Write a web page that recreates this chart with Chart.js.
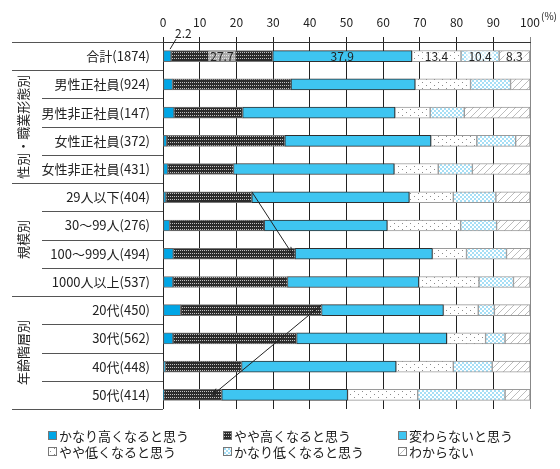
<!DOCTYPE html>
<html>
<head>
<meta charset="utf-8">
<script src="https://cdn.jsdelivr.net/npm/chart.js@4.4.1/dist/chart.umd.min.js"></script>
<style>
    body { margin: 0; background: #fff; }
</style>
</head>
<body>
<canvas id="myChart" width="560" height="469"></canvas>
<script>
// 行ラベル
var categories = ['合計(1874)', '男性正社員(924)', '男性非正社員(147)', '女性正社員(372)', '女性非正社員(431)',
    '29人以下(404)', '30～99人(276)', '100～999人(494)', '1000人以上(537)',
    '20代(450)', '30代(562)', '40代(448)', '50代(414)'];

// 系列名
var seriesNames = ['かなり高くなると思う', 'やや高くなると思う', '変わらないと思う',
    'やや低くなると思う', 'かなり低くなると思う', 'わからない'];

// 各系列の値 (%)
var muchHigher = [2.2, 2.6, 3.0, 1.0, 1.3, 0.8, 1.8, 2.8, 2.7, 4.8, 2.7, 0.6, 0.2];
var slightlyHigher = [27.7, 32.3, 18.7, 32.2, 17.9, 23.4, 25.8, 33.2, 31.2, 38.4, 33.7, 20.8, 15.8];
var noChange = [37.9, 33.8, 41.5, 39.8, 43.8, 42.9, 33.5, 37.4, 35.8, 33.2, 40.9, 42.1, 34.3];
var slightlyLower = [13.4, 15.1, 9.6, 12.5, 12.0, 12.0, 20.0, 9.3, 16.4, 9.5, 10.6, 15.6, 19.1];
var muchLower = [10.4, 10.9, 9.3, 10.6, 9.3, 11.6, 9.8, 10.9, 9.4, 4.4, 5.3, 10.6, 23.8];
var dontKnow = [8.3, 5.3, 17.9, 3.9, 15.7, 9.3, 9.1, 6.4, 4.5, 9.7, 6.8, 10.3, 6.8];

// 軸目盛
var xTicks = [0, 10, 20, 30, 40, 50, 60, 70, 80, 90, 100];

// グループ (縦書きラベル)
var groupNames = ['性別・職業形態別', '規模別', '年齢階層別'];
var groupStart = [1, 5, 9];
var groupEnd = [4, 8, 12];

var FONT = '"Noto Sans CJK JP", "Noto Sans", sans-serif';

function makePattern(w, h, draw) {
    var c = document.createElement('canvas');
    c.width = w;
    c.height = h;
    var g = c.getContext('2d');
    draw(g);
    return g.createPattern(c, 'repeat');
}

// 模様
var darkDots = makePattern(4, 3, function (g) {
    g.fillStyle = '#2c2c2c';
    g.fillRect(0, 0, 4, 3);
    g.fillStyle = '#c4c4c4';
    g.fillRect(0, 1, 1, 1);
    g.fillRect(2, 1, 1, 1);
});
var sparseDots = makePattern(8, 6, function (g) {
    g.fillStyle = '#ffffff';
    g.fillRect(0, 0, 8, 6);
    g.fillStyle = '#8a8a8a';
    g.fillRect(2, 1, 1, 1);
    g.fillRect(6, 4, 1, 1);
});
var blueChecker = makePattern(4, 4, function (g) {
    g.fillStyle = '#ffffff';
    g.fillRect(0, 0, 4, 4);
    g.fillStyle = '#a6dff6';
    g.fillRect(0, 0, 2, 2);
    g.fillRect(2, 2, 2, 2);
});
var diagonal = makePattern(7, 7, function (g) {
    g.fillStyle = '#ffffff';
    g.fillRect(0, 0, 7, 7);
    g.fillStyle = '#bdbdbd';
    for (var i = 0; i < 7; i++) g.fillRect(i, 6 - i, 1, 1);
});

var fills = ['#00a6e6', darkDots, '#3ec5f1', sparseDots, blueChecker, diagonal];
var borders = ['#6a6a6a', '#777777', '#2f2f2f', '#9a9a9a', '#9a9a9a', '#9a9a9a'];
var values = [muchHigher, slightlyHigher, noChange, slightlyLower, muchLower, dontKnow];

var datasets = [];
for (var i = 0; i != seriesNames.length; i++) {
    datasets.push({
        label: seriesNames[i],
        data: values[i],
        backgroundColor: fills[i],
        borderColor: borders[i],
        borderWidth: 1,
        borderSkipped: false,
        barThickness: 11
    });
}

function arrow(ctx, x1, y1, x2, y2) {
    var a = Math.atan2(y2 - y1, x2 - x1);
    ctx.beginPath();
    ctx.moveTo(x1, y1);
    ctx.lineTo(x2, y2);
    ctx.moveTo(x2 - 7 * Math.cos(a - 0.4), y2 - 7 * Math.sin(a - 0.4));
    ctx.lineTo(x2, y2);
    ctx.lineTo(x2 - 7 * Math.cos(a + 0.4), y2 - 7 * Math.sin(a + 0.4));
    ctx.stroke();
}

// 左側の区切り線・縦書き・矢印・数値・凡例
var extras = {
    id: 'extras',
    afterDraw: function (chart) {
        var ctx = chart.ctx;
        var area = chart.chartArea;
        var ys = chart.scales.y;
        var xs = chart.scales.x;
        var pitch = ys.getPixelForValue(1) - ys.getPixelForValue(0);
        ctx.save();

        // 区切り線
        ctx.strokeStyle = '#555';
        ctx.lineWidth = 1;
        for (var r = 0; r <= categories.length; r++) {
            var y = r == 0 ? area.top : ys.getPixelForValue(r) - pitch / 2;
            if (r == categories.length) y = area.bottom;
            y = Math.round(y) + 0.5;
            var x0 = (r == 0 || r == 1 || groupStart.indexOf(r) >= 0 || r == categories.length) ? 12 : 42;
            ctx.beginPath();
            ctx.moveTo(x0, y);
            ctx.lineTo(area.left, y);
            ctx.stroke();
        }

        // 縦書きのグループ名
        ctx.fillStyle = '#222';
        ctx.font = '13px ' + FONT;
        ctx.textAlign = 'center';
        ctx.textBaseline = 'middle';
        for (var g = 0; g != groupNames.length; g++) {
            var cy = (ys.getPixelForValue(groupStart[g]) + ys.getPixelForValue(groupEnd[g])) / 2;
            ctx.save();
            ctx.translate(23, cy);
            ctx.rotate(-Math.PI / 2);
            ctx.fillText(groupNames[g], 0, 0);
            ctx.restore();
        }

        // 矢印
        ctx.strokeStyle = '#222';
        var half = 5.5;
        var c5 = muchHigher[5] + slightlyHigher[5];
        var c7 = muchHigher[7] + slightlyHigher[7];
        arrow(ctx, xs.getPixelForValue(c5), ys.getPixelForValue(5) - half,
            xs.getPixelForValue(c7) - 3, ys.getPixelForValue(7));
        var c9 = muchHigher[9] + slightlyHigher[9];
        var c12 = muchHigher[12] + slightlyHigher[12];
        arrow(ctx, xs.getPixelForValue(c9), ys.getPixelForValue(9) - half,
            xs.getPixelForValue(c12) - 9, ys.getPixelForValue(12));

        // 合計の数値
        ctx.font = '12px ' + FONT;
        ctx.fillStyle = '#222';
        for (var d = 0; d != datasets.length; d++) {
            var bar = chart.getDatasetMeta(d).data[0];
            var txt = values[d][0].toFixed(1);
            if (d == 0) {
                ctx.beginPath();
                ctx.moveTo(bar.x - 1, bar.y - 7);
                ctx.lineTo(bar.x + 5, bar.y - 17);
                ctx.stroke();
                ctx.textAlign = 'left';
                ctx.fillText(txt, bar.x + 4, bar.y - 23);
                continue;
            }
            var cx = (bar.x + bar.base) / 2;
            ctx.textAlign = 'center';
            if (d != 2) {
                var w = ctx.measureText(txt).width + 4;
                ctx.fillStyle = 'rgba(255,255,255,0.6)';
                ctx.fillRect(cx - w / 2, bar.y - 5, w, 10);
                ctx.fillStyle = '#222';
            }
            ctx.fillText(txt, cx, bar.y);
        }

        // (%)
        ctx.font = '10px ' + FONT;
        ctx.textAlign = 'left';
        ctx.fillText('(%)', 541, 16);

        // 凡例
        var cols = [48, 223, 398];
        var rows = [435, 451];
        ctx.font = '13px ' + FONT;
        for (var k = 0; k != seriesNames.length; k++) {
            var lx = cols[k % 3];
            var ly = rows[Math.floor(k / 3)];
            ctx.fillStyle = fills[k];
            ctx.fillRect(lx, ly - 4, 9, 9);
            ctx.strokeStyle = '#777';
            ctx.strokeRect(lx + 0.5, ly - 3.5, 8, 8);
            ctx.fillStyle = '#222';
            ctx.textAlign = 'left';
            ctx.fillText(seriesNames[k], lx + 11, ly + 1);
        }
        ctx.restore();
    }
};

var config = {
    type: 'bar',
    data: {
        labels: categories,
        datasets: datasets
    },
    options: {
        indexAxis: 'y',
        responsive: false,
        animation: false,
        layout: { padding: { left: 0, right: 30, top: 0, bottom: 60 } },
        plugins: {
            legend: { display: false },
            tooltip: { enabled: false }
        },
        scales: {
            x: {
                stacked: true,
                position: 'top',
                min: 0,
                max: 100,
                afterBuildTicks: function (s) {
                    s.ticks = xTicks.map(function (v) { return { value: v }; });
                },
                afterFit: function (s) { s.height = 42; },
                ticks: { color: '#222', font: { size: 12, family: FONT }, padding: 7 },
                grid: {
                    color: function (c) { return c.tick && c.tick.value == 100 ? '#888' : '#222'; },
                    tickLength: 5
                },
                border: { color: '#333' }
            },
            y: {
                stacked: true,
                afterFit: function (s) { s.width = 163; },
                ticks: { color: '#222', font: { size: 13, family: FONT }, padding: 13 },
                grid: { display: false, drawTicks: false },
                border: { display: false }
            }
        }
    },
    plugins: [extras]
};

new Chart(document.getElementById('myChart'), config);
</script>
</body>
</html>
